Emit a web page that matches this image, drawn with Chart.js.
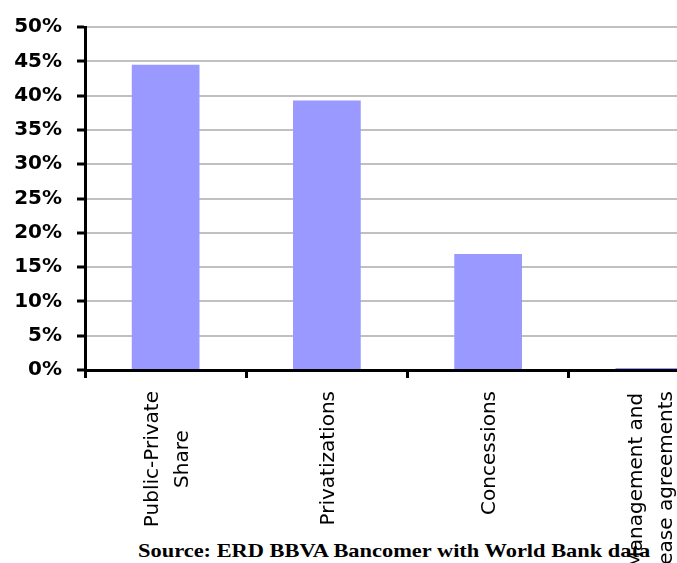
<!DOCTYPE html>
<html>
<head>
<meta charset="utf-8">
<script src="https://cdn.jsdelivr.net/npm/chart.js@4"></script>
<style>
  html, body { margin: 0; padding: 0; background: #fff; overflow: hidden; }
  #wrap { position: relative; width: 677px; height: 563px; overflow: hidden; }
  #box { position: absolute; left: 0; top: 0; width: 740px; height: 563px; }
  #source {
    position: absolute; left: 138px; top: 540px;
    font: bold 19px "Liberation Serif", serif; color: #000;
    white-space: nowrap; transform-origin: left top; transform: scaleX(1.18);
  }
</style>
</head>
<body>
<div id="wrap">
  <div id="source">Source: ERD BBVA Bancomer with World Bank data</div>
  <div id="box"><canvas id="chart"></canvas></div>
</div>
<script>
// Data (percent)
const categories = [
  ['Public-Private', 'Share'],
  'Privatizations',
  'Concessions',
  ['Management and', 'lease agreements']
];
const shares = [44.5, 39.3, 16.9, 0.3];
const yTicks = [0, 5, 10, 15, 20, 25, 30, 35, 40, 45, 50];

// Category labels: rotated, lines centred on each other, block hung from the axis
const xLabels = {
  id: 'xLabels',
  afterDraw(chart) {
    const scale = chart.scales.x;
    const c = chart.ctx;
    const gap = 21, lineGap = 30;
    c.save();
    c.font = '20px "DejaVu Sans"';
    c.fillStyle = '#000';
    c.textAlign = 'center';
    c.textBaseline = 'middle';
    categories.forEach((label, i) => {
      const lines = [].concat(label);
      const w = Math.max(...lines.map(l => c.measureText(l).width));
      const x = scale.getPixelForTick(i);
      const y = scale.top + gap + w / 2;
      lines.forEach((line, j) => {
        c.save();
        c.translate(x + (j - (lines.length - 1) / 2) * lineGap + 2, y);
        c.rotate(-Math.PI / 2);
        c.fillText(line, 0, 0);
        c.restore();
      });
    });
    c.restore();
  }
};

const ctx = document.getElementById('chart');

new Chart(ctx, {
  type: 'bar',
  data: {
    labels: categories,
    datasets: [{
      data: shares,
      backgroundColor: '#9999ff',
      borderWidth: 0,
      barPercentage: 0.42,
      categoryPercentage: 1
    }]
  },
  options: {
    responsive: true,
    maintainAspectRatio: false,
    animation: false,
    layout: { padding: { top: 16, right: 10, left: 0, bottom: 0 } },
    plugins: {
      legend: { display: false },
      tooltip: { enabled: false }
    },
    scales: {
      x: {
        afterFit: (scale) => { scale.height = 193; },
        grid: {
          offset: true,
          drawOnChartArea: false,
          drawTicks: true,
          tickLength: 8,
          tickColor: '#000',
          tickWidth: 3
        },
        border: { color: '#000', width: 3 },
        ticks: { display: false }
      },
      y: {
        min: 0,
        max: 50,
        afterFit: (scale) => { scale.width = 85; },
        afterBuildTicks: (scale) => { scale.ticks = yTicks.map(v => ({ value: v })); },
        grid: {
          color: '#c0c0c0',
          lineWidth: 2,
          tickLength: 8,
          tickColor: '#000',
          tickWidth: 3
        },
        border: { color: '#000', width: 3 },
        ticks: {
          color: '#000',
          padding: 15,
          font: { family: 'DejaVu Sans', size: 20, weight: 'bold' },
          callback: (v) => v + '%'
        }
      }
    }
  },
  plugins: [xLabels]
});
</script>
</body>
</html>
